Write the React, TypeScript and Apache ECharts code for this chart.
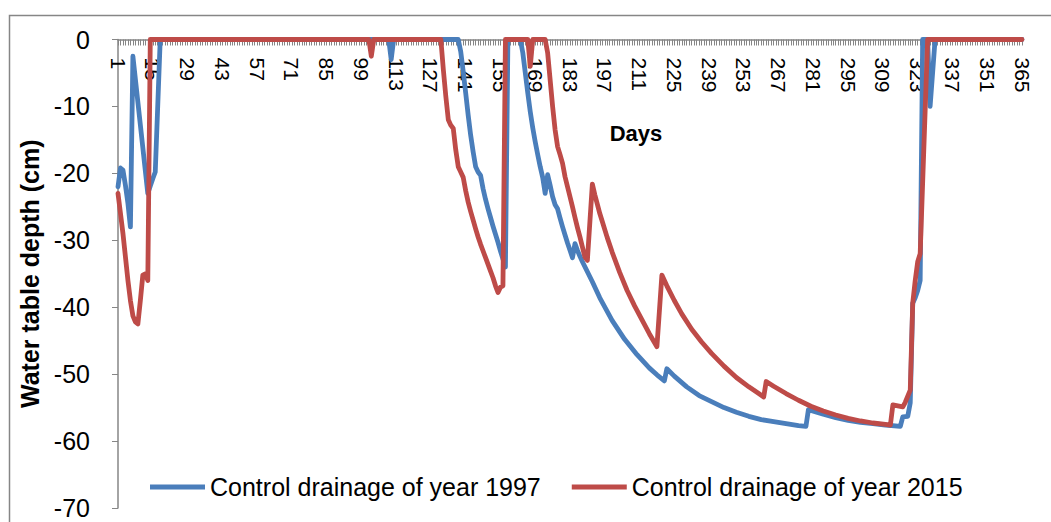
import React, { useEffect, useRef } from "react";
import * as echarts from "echarts";

const FONT = "'Liberation Sans', Arial, sans-serif";

const seriesNames = ["Control drainage of year 1997", "Control drainage of year 2015"];
const axisTitleX = "Days";
const axisTitleY = "Water table depth (cm)";

// Control drainage 1997 (day of year, water table depth in cm)
const days1997 = [1, 2, 3, 4, 5, 6, 7, 13, 14, 15, 16, 18, 110, 111, 112, 138, 139, 140, 141, 142, 143, 144, 145, 146, 147, 148, 149, 150, 151, 152, 153, 154, 155, 156, 157, 158, 163, 164, 165, 166, 167, 168, 169, 170, 171, 172, 173, 174, 175, 176, 177, 178, 179, 180, 181, 182, 183, 184, 185, 186, 187, 188, 190, 192, 195, 200, 205, 210, 215, 218, 221, 222, 225, 230, 235, 240, 245, 250, 255, 260, 265, 270, 275, 278, 279, 285, 290, 295, 300, 305, 310, 316, 317, 319, 320, 321, 322, 323, 324, 325, 327, 328, 329, 330, 365];
const depth1997 = [-22, -19.2, -19.5, -21.8, -24.5, -28, -2.5, -23, -21.9, -20.8, -19.8, 0, 0, -3, 0, 0, -1.8, -4.8, -8, -11.3, -14.3, -16.8, -19, -19.8, -20.3, -22.3, -23.9, -25.3, -26.6, -27.9, -29.1, -30.3, -31.6, -32.8, -34, 0, 0, -2, -5, -8, -10.8, -13.2, -15.3, -17.2, -19, -20.6, -23, -20.2, -21.8, -23.5, -24.7, -25.3, -26.7, -28, -29.2, -30.4, -31.5, -32.6, -30.5, -31.5, -32.4, -33.2, -34.7, -36.2, -38.6, -42, -44.8, -47.1, -49.1, -50.1, -51, -49.2, -50.3, -51.9, -53.2, -54.1, -55, -55.7, -56.3, -56.8, -57.1, -57.4, -57.7, -57.8, -55.3, -56, -56.5, -56.9, -57.2, -57.4, -57.6, -57.8, -56.4, -56.3, -54.3, -39.4, -38.6, -37.5, -36, 0, 0, -10, -5, 0, 0];

// Control drainage 2015
const days2015 = [1, 2, 3, 4, 5, 6, 7, 8, 9, 10, 11, 12, 13, 14, 102, 103, 104, 131, 132, 133, 134, 135, 136, 137, 138, 139, 140, 141, 142, 143, 144, 145, 146, 147, 148, 149, 150, 151, 152, 153, 154, 155, 156, 157, 166, 167, 168, 173, 174, 175, 176, 177, 178, 179, 180, 181, 182, 183, 184, 185, 186, 187, 188, 189, 190, 192, 193, 194, 195, 196, 198, 200, 203, 206, 209, 212, 215, 218, 220, 222, 225, 228, 232, 236, 240, 245, 250, 255, 259, 261, 262, 265, 270, 275, 280, 285, 290, 295, 300, 305, 310, 312, 313, 317, 318, 320, 321, 322, 323, 324, 327, 365];
const depth2015 = [-23, -26, -29, -32.5, -36, -39, -41.3, -42.2, -42.5, -39, -35.2, -35, -36, 0, 0, -2.5, 0, 0, -4.5, -8.5, -12, -12.8, -13.3, -16.5, -19, -19.8, -20.6, -22.6, -24.3, -25.7, -27, -28.3, -29.5, -30.6, -31.6, -32.6, -33.6, -34.6, -35.6, -36.8, -37.8, -37, -36.8, 0, 0, -4, 0, 0, -2, -6, -10, -13.5, -16, -17.2, -18.5, -20.5, -22, -23.5, -25, -26.6, -28.1, -29.5, -31, -32.5, -33, -21.6, -23.2, -24.6, -26, -27.2, -29.6, -31.8, -34.8, -37.5, -39.8, -41.9, -44, -45.9, -35.2, -36.8, -39, -41, -43.3, -45.2, -46.9, -48.8, -50.5, -51.9, -52.9, -53.4, -51.1, -51.8, -52.9, -53.9, -54.8, -55.5, -56.1, -56.6, -57, -57.3, -57.5, -57.6, -54.6, -54.9, -54.2, -52.4, -39.4, -36, -33.2, -32, 0, 0];

const dayMin = 1;
const dayMax = 365;
const dayLabelStep = 14;
const depthMin = -70;
const depthMax = 0;
const depthStep = 10;

const colors = ["#4A7EBB", "#BE4B48"];

function pairs(xs: number[], ys: number[]) {
  return xs.map((x, i) => [x, ys[i]]);
}

export default function App() {
  const ref = useRef<HTMLDivElement>(null);

  useEffect(() => {
    if (!ref.current) return;
    const chart = echarts.init(ref.current, null, { renderer: "svg" });
    const axisGrey = "#868686";
    chart.setOption({
      animation: false,
      backgroundColor: "#ffffff",
      textStyle: { fontFamily: FONT },
      grid: { left: 118, right: 29, top: 39.5, bottom: 14, containLabel: false },
      graphic: [
        {
          type: "rect",
          shape: { x: 9.5, y: 15.5, width: 1100, height: 600 },
          style: { fill: "none", stroke: axisGrey, lineWidth: 1.5 },
          silent: true,
          z: -10,
        },
        {
          type: "text",
          style: {
            text: axisTitleX,
            x: 636,
            y: 133,
            align: "center",
            verticalAlign: "middle",
            fill: "#000",
            font: `bold 22px ${FONT}`,
          },
        },
      ],
      legend: {
        left: 150,
        top: 474,
        padding: 0,
        icon: "rect",
        itemWidth: 55,
        itemHeight: 5,
        itemGap: 31,
        textStyle: { fontSize: 25, color: "#000", fontFamily: FONT, lineHeight: 26 },
        data: seriesNames,
      },
      xAxis: {
        type: "value",
        position: "top",
        min: dayMin,
        max: dayMax,
        interval: 1,
        splitLine: { show: false },
        axisLine: { show: true, onZero: false, lineStyle: { color: axisGrey, width: 1.5 } },
        axisTick: { show: true, inside: true, length: 6, lineStyle: { color: axisGrey, width: 1 } },
        axisLabel: {
          inside: true,
          rotate: 90,
          margin: 18,
          fontSize: 21,
          color: "#000",
          fontFamily: FONT,
          showMinLabel: true,
          showMaxLabel: true,
          formatter: (v: number) => ((v - dayMin) % dayLabelStep === 0 ? String(v) : ""),
        },
      },
      yAxis: {
        type: "value",
        min: depthMin,
        max: depthMax,
        interval: depthStep,
        name: axisTitleY,
        nameLocation: "middle",
        nameGap: 73,
        nameRotate: 90,
        nameTextStyle: { fontSize: 25, fontWeight: "bold", color: "#000", fontFamily: FONT },
        splitLine: { show: false },
        axisLine: { show: true, lineStyle: { color: axisGrey, width: 1.5 } },
        axisTick: { show: true, length: 6, lineStyle: { color: axisGrey } },
        axisLabel: { fontSize: 25, color: "#000", margin: 28, fontFamily: FONT },
      },
      series: [
        {
          name: seriesNames[0],
          type: "line",
          data: pairs(days1997, depth1997),
          symbol: "none",
          lineStyle: { color: colors[0], width: 4.8, cap: "round", join: "round" },
          itemStyle: { color: colors[0] },
          z: 3,
        },
        {
          name: seriesNames[1],
          type: "line",
          data: pairs(days2015, depth2015),
          symbol: "none",
          lineStyle: { color: colors[1], width: 4.8, cap: "round", join: "round" },
          itemStyle: { color: colors[1] },
          z: 4,
        },
      ],
    });
    return () => chart.dispose();
  }, []);

  return (
    <div
      ref={ref}
      style={{ position: "fixed", left: 0, top: 0, width: 1051, height: 522, background: "#fff" }}
    />
  );
}
